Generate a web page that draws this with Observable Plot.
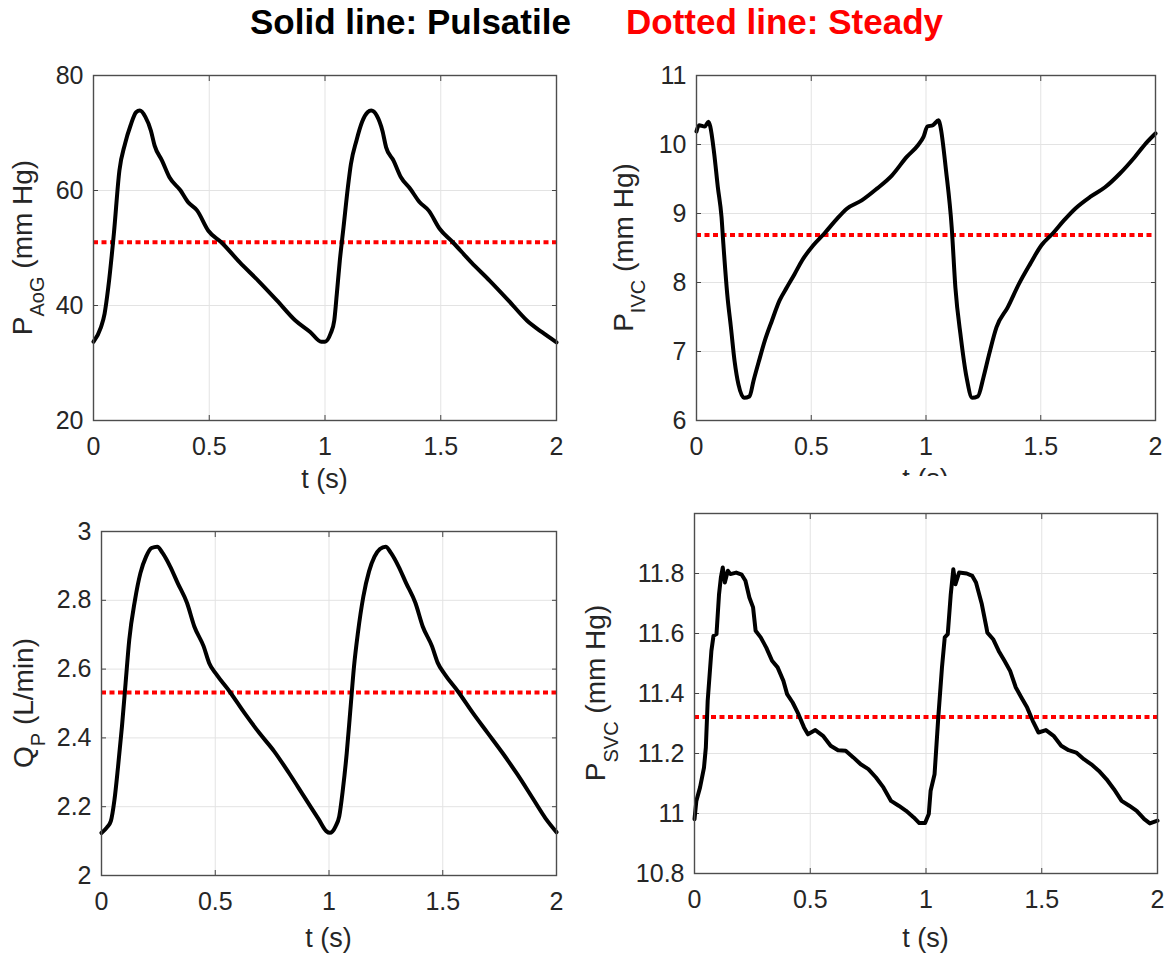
<!DOCTYPE html>
<html>
<head>
<meta charset="utf-8">
<script src="https://cdn.jsdelivr.net/npm/d3@7"></script>
<script src="https://cdn.jsdelivr.net/npm/@observablehq/plot@0.6"></script>
<style>
  body { margin: 0; background: white; }
  #fig { position: relative; width: 1169px; height: 955px; background: white; overflow: hidden; font-family: "Liberation Sans", Arial, sans-serif; }
  .panel { position: absolute; }
  .panel svg { overflow: hidden; }
</style>
</head>
<body>
<div id="fig"></div>
<script>
// ---------- data ----------
const xTicks = [0, 0.5, 1, 1.5, 2];

// P_AoG (mm Hg)
const tAoG = [0, 0.032, 0.048, 0.064, 0.088, 0.112, 0.136, 0.16, 0.184, 0.2, 0.224, 0.248, 0.264, 0.296, 0.328, 0.376, 0.408, 0.448, 0.496, 0.552, 0.632, 0.712, 0.792, 0.872, 0.936, 0.984,
  1.0, 1.024, 1.04, 1.051, 1.064, 1.08, 1.099, 1.112, 1.136, 1.16, 1.184, 1.2, 1.224, 1.248, 1.264, 1.296, 1.328, 1.368, 1.408, 1.448, 1.496, 1.552, 1.632, 1.712, 1.792, 1.872, 1.936, 2.0];
const pAoG = [33.7, 36.2, 38.6, 43.2, 52.5, 63.5, 68.1, 71.3, 73.6, 73.9, 72.8, 70.4, 67.8, 65.2, 62.3, 60.0, 58.0, 56.5, 53.0, 51.0, 47.5, 44.3, 40.9, 37.4, 35.4, 33.7,
  33.7, 35.1, 37.4, 42.0, 47.8, 53.6, 60.6, 64.6, 68.7, 71.9, 73.6, 73.9, 73.0, 70.4, 67.5, 65.2, 62.3, 60.3, 58.0, 56.5, 53.3, 51.0, 47.5, 44.3, 40.9, 37.4, 35.4, 33.6];
const steadyAoG = 51.0;
const yTicksAoG = [20, 40, 60, 80];

// P_IVC (mm Hg)
const tIVC = [0, 0.011, 0.036, 0.052, 0.06, 0.077, 0.093, 0.109, 0.117, 0.134, 0.15, 0.166, 0.183, 0.207, 0.231, 0.248, 0.272, 0.297, 0.329, 0.362, 0.394, 0.427, 0.46, 0.509, 0.557, 0.606, 0.655, 0.72, 0.786, 0.851, 0.916, 0.965, 0.989,
  1.006, 1.03, 1.055, 1.063, 1.087, 1.112, 1.128, 1.152, 1.177, 1.201, 1.226, 1.25, 1.275, 1.307, 1.356, 1.405, 1.454, 1.503, 1.552, 1.601, 1.65, 1.715, 1.78, 1.845, 1.91, 1.959, 2.0];
const pIVC = [10.19, 10.28, 10.26, 10.33, 10.26, 9.87, 9.38, 8.95, 8.56, 7.83, 7.35, 6.86, 6.52, 6.33, 6.35, 6.57, 6.86, 7.15, 7.45, 7.74, 7.93, 8.12, 8.32, 8.54, 8.71, 8.90, 9.07, 9.19, 9.36, 9.55, 9.82, 9.99, 10.11,
  10.26, 10.28, 10.35, 10.26, 9.63, 8.80, 7.93, 7.20, 6.62, 6.33, 6.35, 6.62, 6.96, 7.35, 7.64, 7.98, 8.27, 8.54, 8.71, 8.90, 9.07, 9.24, 9.38, 9.58, 9.82, 10.02, 10.16];
const steadyIVC = 8.69;
const yTicksIVC = [6, 7, 8, 9, 10, 11];

// Q_P (L/min)
const tQP = [0, 0.024, 0.041, 0.057, 0.073, 0.09, 0.106, 0.122, 0.147, 0.171, 0.196, 0.22, 0.245, 0.269, 0.302, 0.335, 0.376, 0.408, 0.449, 0.473, 0.506, 0.563, 0.629, 0.694, 0.759, 0.824, 0.89, 0.955, 0.988,
  1.004, 1.029, 1.045, 1.061, 1.078, 1.094, 1.11, 1.127, 1.151, 1.176, 1.2, 1.224, 1.249, 1.273, 1.306, 1.339, 1.38, 1.412, 1.453, 1.478, 1.51, 1.567, 1.633, 1.698, 1.763, 1.829, 1.894, 1.951, 2.0];
const qP = [2.124, 2.14, 2.158, 2.22, 2.318, 2.434, 2.56, 2.685, 2.80, 2.879, 2.927, 2.952, 2.956, 2.937, 2.898, 2.85, 2.792, 2.724, 2.666, 2.618, 2.584, 2.535, 2.472, 2.414, 2.361, 2.298, 2.23, 2.163, 2.129,
  2.124, 2.143, 2.172, 2.25, 2.356, 2.482, 2.608, 2.705, 2.811, 2.884, 2.927, 2.949, 2.956, 2.937, 2.898, 2.85, 2.792, 2.724, 2.666, 2.618, 2.584, 2.535, 2.472, 2.414, 2.356, 2.293, 2.226, 2.167, 2.126];
const steadyQP = 2.532;
const yTicksQP = [2, 2.2, 2.4, 2.6, 2.8, 3];

// P_SVC (mm Hg)
const tSVC = [0, 0.008, 0.024, 0.041, 0.049, 0.057, 0.073, 0.082, 0.095, 0.106, 0.114, 0.122, 0.131, 0.144, 0.155, 0.18, 0.204, 0.22, 0.237, 0.253, 0.264, 0.286, 0.31, 0.335, 0.359, 0.384, 0.4, 0.424, 0.449, 0.473, 0.49, 0.522, 0.555, 0.588, 0.62, 0.653, 0.686, 0.718, 0.751, 0.784, 0.816, 0.849, 0.882, 0.914, 0.947, 0.971, 0.996,
  1.012, 1.02, 1.037, 1.053, 1.069, 1.081, 1.094, 1.107, 1.118, 1.127, 1.143, 1.176, 1.2, 1.216, 1.241, 1.261, 1.265, 1.29, 1.314, 1.339, 1.363, 1.388, 1.412, 1.437, 1.461, 1.486, 1.518, 1.551, 1.584, 1.616, 1.649, 1.682, 1.714, 1.747, 1.78, 1.812, 1.845, 1.878, 1.91, 1.943, 1.967, 2.0];
const pSVC = [10.981, 11.042, 11.087, 11.153, 11.22, 11.376, 11.542, 11.592, 11.598, 11.731, 11.787, 11.82, 11.77, 11.809, 11.798, 11.803, 11.796, 11.776, 11.72, 11.687, 11.609, 11.587, 11.553, 11.509, 11.487, 11.442, 11.398, 11.37, 11.331, 11.287, 11.264, 11.278, 11.259, 11.226, 11.211, 11.209, 11.187, 11.164, 11.148, 11.12, 11.087, 11.042, 11.026, 11.009, 10.987, 10.968, 10.968,
  10.998, 11.076, 11.131, 11.32, 11.487, 11.587, 11.598, 11.731, 11.814, 11.764, 11.803, 11.8, 11.792, 11.77, 11.698, 11.62, 11.603, 11.581, 11.542, 11.509, 11.476, 11.42, 11.387, 11.353, 11.309, 11.27, 11.278, 11.259, 11.226, 11.211, 11.203, 11.181, 11.164, 11.142, 11.114, 11.081, 11.042, 11.026, 11.009, 10.981, 10.967, 10.976];
const steadySVC = 11.322;
const yTicksSVC = [10.8, 11, 11.2, 11.4, 11.6, 11.8];

const titleSolid = "Solid line: Pulsatile";
const titleDotted = "Dotted line: Steady";

// ---------- drawing ----------
const FONT = "Liberation Sans, Arial, sans-serif";
const fig = d3.select("#fig");

// Title
const tsvg = fig.append("svg").attr("width", 1169).attr("height", 55)
  .style("position", "absolute").style("left", "0px").style("top", "0px");
tsvg.append("text").attr("x", 250).attr("y", 34).attr("text-anchor", "start")
  .attr("font-family", FONT).attr("font-weight", "bold").attr("font-size", 35)
  .attr("fill", "#000").text(titleSolid);
tsvg.append("text").attr("x", 626).attr("y", 34).attr("text-anchor", "start")
  .attr("font-family", FONT).attr("font-weight", "bold").attr("font-size", 35)
  .attr("fill", "#f00").text(titleDotted);

function panel({left, top, width, height, mL, mR, mT, mB, t, v, steady, yDomain, yTicks, yFmt, sym, sub, unit, labX, subDy, xLabelDy, curve}) {
  const data = t.map((ti, i) => ({t: ti, v: v[i]}));
  const chart = Plot.plot({
    width, height,
    marginLeft: mL, marginRight: mR, marginTop: mT, marginBottom: mB,
    style: {fontFamily: FONT, fontSize: "25px", color: "#262626", background: "white", overflow: "hidden"},
    x: {domain: [0, 2], ticks: xTicks},
    y: {domain: yDomain, ticks: yTicks},
    marks: [
      Plot.gridX(xTicks, {stroke: "#e3e3e3", strokeOpacity: 1, strokeWidth: 1}),
      Plot.gridY(yTicks, {stroke: "#e3e3e3", strokeOpacity: 1, strokeWidth: 1}),
      Plot.axisX(xTicks, {anchor: "bottom", tickSize: 0, tickPadding: 17, fontSize: 25, label: null, tickFormat: d => String(d)}),
      Plot.axisY(yTicks, {anchor: "left", tickSize: 0, tickPadding: 10, fontSize: 25, label: null, tickFormat: yFmt}),
      Plot.axisX(xTicks, {anchor: "top", tickSize: -5, fill: "none", label: null, stroke: "#444"}),
      Plot.axisX(xTicks, {anchor: "bottom", tickSize: -5, fill: "none", label: null, stroke: "#444"}),
      Plot.axisY(yTicks, {anchor: "left", tickSize: -5, fill: "none", label: null, stroke: "#444"}),
      Plot.axisY(yTicks, {anchor: "right", tickSize: -5, fill: "none", label: null, stroke: "#444"}),
      Plot.ruleY([steady], {stroke: "#ff0000", strokeWidth: 4, strokeDasharray: "5,3.5"}),
      Plot.line(data, {x: "t", y: "v", curve, stroke: "#000", strokeWidth: 4, strokeLinejoin: "round", strokeLinecap: "round"}),
      Plot.frame({stroke: "#4d4d4d", strokeWidth: 1.4})
    ]
  });
  const div = fig.append("div").attr("class", "panel")
    .style("left", left + "px").style("top", top + "px");
  div.node().appendChild(chart);
  const svg = d3.select(chart);
  // x label
  const cx = mL + (width - mL - mR) / 2;
  svg.append("text").attr("x", cx).attr("y", height - mB + xLabelDy)
    .attr("text-anchor", "middle").attr("font-size", 27).attr("fill", "#262626")
    .attr("font-family", FONT)
    .text("t (s)");
  // y label with subscript
  const cy = mT + (height - mT - mB) / 2;
  const yl = svg.append("text")
    .attr("transform", `translate(${labX},${cy}) rotate(-90)`)
    .attr("text-anchor", "middle").attr("font-size", 28).attr("fill", "#262626")
    .attr("font-family", FONT);
  yl.append("tspan").text(sym);
  yl.append("tspan").attr("font-size", 20).attr("dy", subDy).text(sub);
  yl.append("tspan").attr("dy", -subDy).text(" " + unit);
}

// top-left: P_AoG
panel({left: 0, top: 60, width: 580, height: 440, mL: 93, mR: 24, mT: 15, mB: 80,
  t: tAoG, v: pAoG, steady: steadyAoG, yDomain: [20, 80], yTicks: yTicksAoG, yFmt: d => String(d),
  sym: "P", sub: "AoG", unit: "(mm Hg)", labX: 32, subDy: 12, xLabelDy: 68, curve: "monotone-x"});

// top-right: P_IVC (x label clipped at the panel edge, as in the reference)
panel({left: 580, top: 60, width: 589, height: 416, mL: 116, mR: 14, mT: 15, mB: 56,
  t: tIVC, v: pIVC, steady: steadyIVC, yDomain: [6, 11], yTicks: yTicksIVC, yFmt: d => String(d),
  sym: "P", sub: "IVC", unit: "(mm Hg)", labX: 53, subDy: 12, xLabelDy: 68, curve: "monotone-x"});

// bottom-left: Q_P
panel({left: 0, top: 500, width: 580, height: 455, mL: 101, mR: 24, mT: 31, mB: 80,
  t: tQP, v: qP, steady: steadyQP, yDomain: [2, 3], yTicks: yTicksQP, yFmt: d => String(+d.toFixed(1)),
  sym: "Q", sub: "P", unit: "(L/min)", labX: 33, subDy: 12, xLabelDy: 72, curve: "monotone-x"});

// bottom-right: P_SVC
panel({left: 580, top: 500, width: 589, height: 455, mL: 114, mR: 12, mT: 13, mB: 82,
  t: tSVC, v: pSVC, steady: steadySVC, yDomain: [10.8, 12], yTicks: yTicksSVC, yFmt: d => String(+d.toFixed(1)),
  sym: "P", sub: "SVC", unit: "(mm Hg)", labX: 25, subDy: 13, xLabelDy: 74, curve: "linear"});
</script>
</body>
</html>
